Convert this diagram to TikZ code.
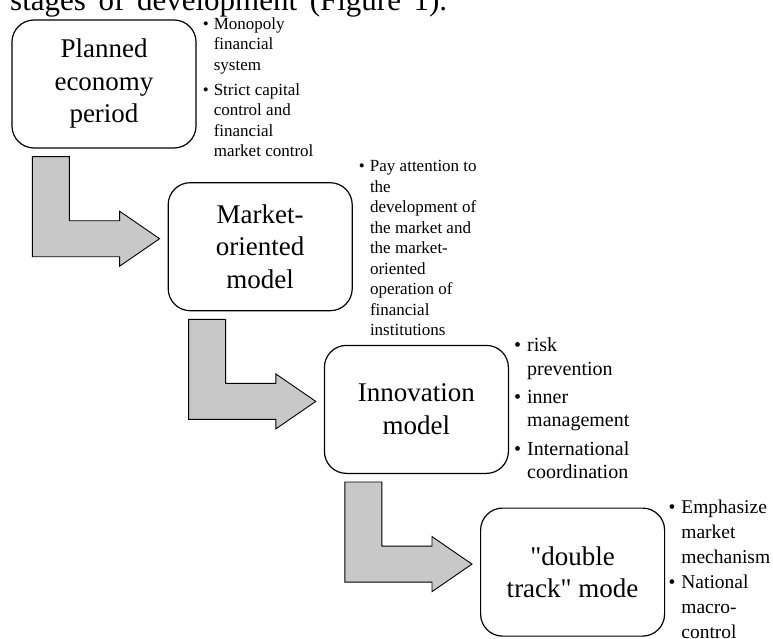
\documentclass[tikz,border=0pt]{standalone}
\usepackage{fontspec}
\setmainfont{Liberation Serif}
\usetikzlibrary{positioning, calc}
\definecolor{arrowgray}{RGB}{200,200,200}
\tikzset{
  stage/.style={draw, rounded corners=22pt, align=center, line width=1.2pt, inner sep=0pt, minimum width=184pt, minimum height=128pt, font=\fontsize{27}{32.5}\selectfont},
  note/.style={align=left, inner sep=0pt, anchor=north west, font=\fontsize{17}{20.5}\selectfont},
  bignote/.style={note, font=\fontsize{20}{23.3}\selectfont},
  turn/.style={draw, fill=arrowgray, line width=0.9pt, line join=miter}
}
\newcommand{\bul}{\llap{\textbullet\hspace{0.3em}}}
\newcommand{\turnarrow}[2]{%
  \draw[turn] let \p1=($(#1.south west)+(21,8)$), \p2=($(#2.west)+(-8,-8)$) in
    (\x1,\y1) -- (\x1+37pt,\y1) -- (\x1+37pt,\y2+18pt) -- (\x2-40pt,\y2+18pt)
    -- (\x2-40pt,\y2+27.5pt) -- (\p2) -- (\x2-40pt,\y2-27.5pt)
    -- (\x2-40pt,\y2-18pt) -- (\x1,\y2-18pt) -- cycle;}

\begin{document}
\begin{tikzpicture}[x=1pt, y=-1pt]
    \useasboundingbox (0,0) rectangle (773,639);
    \clip (0,0) rectangle (773,639);
    
    \node[anchor=base west, inner sep=0pt, font=\fontsize{31}{37}\selectfont] (heading) at (10,10.5)
    {\makebox[437pt][s]{stages of development (Figure 1).}};
    
    \node[stage] (planned) at (104,84) {Planned\\economy\\period};
    \node[stage, below right=33.5pt and -29pt of planned] (market) {Market-\\oriented\\model};
    \node[stage, below right=33.5pt and -29pt of market] (innov) {Innovation\\model};
    \node[stage, below right=33.5pt and -29pt of innov] (double) {\textquotedbl double\\track\textquotedbl{} mode};
    
    \node[note] (plannednote) at ([xshift=17pt, yshift=2pt]planned.north east)
    {\bul Monopoly\\financial\\system\\[4.5pt]\bul Strict capital\\control and\\financial\\market control};
    \node[note] (marketnote) at ([xshift=17pt, yshift=22pt]market.north east)
    {\bul Pay attention to\\the\\development of\\the market and\\the market-\\oriented\\operation of\\financial\\institutions};
    \node[bignote] (innovnote) at ([xshift=18pt, yshift=7pt]innov.north east)
    {\bul risk\\prevention\\[5pt]\bul inner\\management\\[5pt]\bul International\\coordination};
    \node[bignote, font=\fontsize{19.5}{25.1}\selectfont] (doublenote) at ([xshift=16pt, yshift=8pt]double.north east)
    {\bul Emphasize\\market\\mechanism\\\bul National\\macro-\\control};
    
    \turnarrow{planned}{market}
    \turnarrow{market}{innov}
    \turnarrow{innov}{double}
    
\end{tikzpicture}
\end{document}
